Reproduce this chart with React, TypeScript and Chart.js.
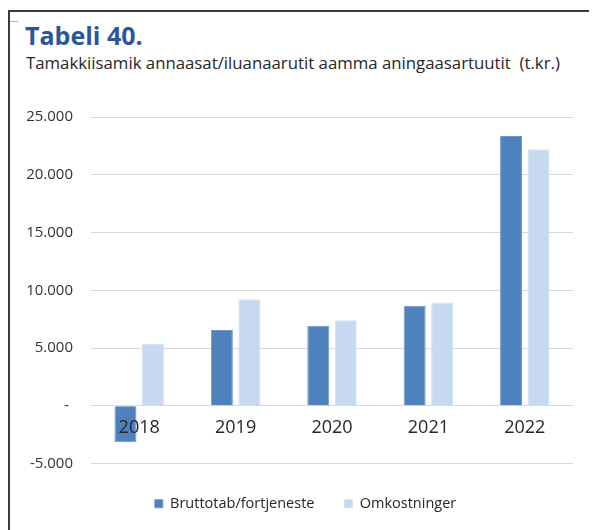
import React, { useEffect, useRef } from "react";
import { Chart, registerables } from "chart.js";

Chart.register(...registerables);

const categories = ["2018", "2019", "2020", "2021", "2022"];
const bruttoValues = [-3170, 6550, 6920, 8650, 23350];
const omkostValues = [5340, 9230, 7410, 8940, 22200];
const seriesNames = ["Bruttotab/fortjeneste", "Omkostninger"];
const yTicks = [-5000, 0, 5000, 10000, 15000, 20000, 25000];

const FONT = "'Open Sans', 'Noto Sans', sans-serif";

function fmt(v: number): string {
  if (v === 0) return "- ";
  const s = Math.abs(v).toString().replace(/\B(?=(\d{3})+(?!\d))/g, ".");
  return (v < 0 ? "-" : "") + s;
}

const legendShift = {
  id: "legendShift",
  afterLayout(chart: any) {
    const lg = chart.legend;
    if (!lg) return;
    lg.left += 14;
    lg.right += 14;
    lg.top += 3;
    lg.bottom += 3;
  },
};

export default function App() {
  const ref = useRef<HTMLCanvasElement | null>(null);

  useEffect(() => {
    document.body.style.overflow = "hidden";
    const canvas = ref.current;
    if (!canvas) return;
    const chart = new Chart(canvas, {
      type: "bar",
      data: {
        labels: categories,
        datasets: [
          {
            label: seriesNames[0],
            data: bruttoValues,
            backgroundColor: "#4F81BD",
            borderColor: "#6E97CA",
            borderWidth: 1,
            categoryPercentage: 0.57,
            barPercentage: 0.8,
          },
          {
            label: seriesNames[1],
            data: omkostValues,
            backgroundColor: "#C6D9F1",
            borderColor: "#D3E2F4",
            borderWidth: 1,
            categoryPercentage: 0.57,
            barPercentage: 0.8,
          },
        ],
      },
      plugins: [legendShift],
      options: {
        responsive: false,
        maintainAspectRatio: false,
        animation: false,
        devicePixelRatio: 1,
        layout: { padding: { left: 0, right: 24, top: 27, bottom: 0 } },
        plugins: {
          tooltip: { enabled: false },
          title: { display: false },
          legend: {
            position: "bottom",
            labels: {
              boxWidth: 8,
              boxHeight: 8,
              padding: 30,
              color: "#262626",
              font: { family: FONT, size: 14.5 },
            },
          },
        },
        scales: {
          x: {
            position: { y: 0 } as any,
            grid: { display: false, drawTicks: false },
            border: { display: false },
            ticks: {
              z: 1,
              color: "#262626",
              font: { family: FONT, size: 18 },
              padding: 11,
              maxRotation: 0,
            },
          },
          y: {
            min: -5000,
            max: 25000,
            afterBuildTicks: (scale: any) => {
              scale.ticks = yTicks.map((v) => ({ value: v }));
            },
            afterFit: (scale: any) => {
              scale.width = 81;
            },
            grid: { color: "#D9D9D9", lineWidth: 1, drawTicks: false },
            border: { display: false },
            ticks: {
              color: "#333333",
              font: { family: FONT, size: 15 },
              padding: 18,
              callback: (v: any) => fmt(Number(v)),
            },
          },
        },
      },
    });
    return () => chart.destroy();
  }, []);

  return (
    <div
      style={{
        position: "relative",
        marginTop: 2,
        width: 587,
        height: 530,
        borderTop: "2px solid #3a3a3a",
        borderLeft: "2px solid #3a3a3a",
        overflow: "hidden",
        background: "#fff",
      }}
    >
      <div style={{ position: "absolute", left: 0, top: 9, width: 8, height: 1, background: "#b0b0b0" }} />
      <div style={{ position: "absolute", left: 580, top: 9, width: 10, height: 1, background: "#b0b0b0" }} />
      <div
        style={{
          position: "absolute",
          left: 15,
          top: 11,
          fontFamily: FONT,
          fontWeight: 700,
          fontSize: 25,
          lineHeight: "25px",
          color: "#2B579A",
          whiteSpace: "nowrap",
        }}
      >
        Tabeli 40.
      </div>
      <div
        style={{
          position: "absolute",
          left: 16,
          top: 42,
          fontFamily: FONT,
          fontSize: 16.8,
          lineHeight: "17px",
          color: "#262626",
          whiteSpace: "pre",
        }}
      >
        {"Tamakkiisamik annaasat/iluanaarutit aamma aningaasartuutit  (t.kr.)"}
      </div>
      <canvas
        ref={ref}
        width={587}
        height={428}
        style={{ position: "absolute", left: 0, top: 78, width: 587, height: 428 }}
      />
    </div>
  );
}
